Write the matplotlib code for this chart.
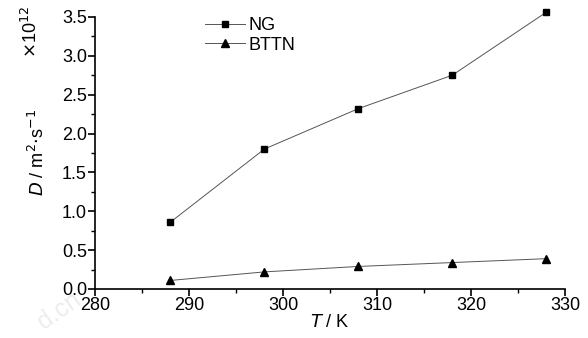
import matplotlib
matplotlib.use("Agg")
import matplotlib.pyplot as plt
from matplotlib.ticker import MultipleLocator

plt.rcParams["font.family"] = ["Liberation Sans Narrow", "Liberation Sans", "DejaVu Sans"]

temps = [288, 298, 308, 318, 328]
ng = [0.86, 1.80, 2.32, 2.75, 3.56]
bttn = [0.11, 0.22, 0.29, 0.34, 0.39]

fig = plt.figure(figsize=(5.88, 3.38), dpi=100)
ax = fig.add_axes([0.162, 0.145, 0.799, 0.805])
ax.set_zorder(2)
ax.patch.set_alpha(0)

ax.plot(temps, ng, color="#555555", lw=0.7, marker="s", ms=5,
        mfc="black", mec="black", label="NG", clip_on=False)
ax.plot(temps, bttn, color="#555555", lw=0.7, marker="^", ms=6,
        mfc="black", mec="black", label="BTTN", clip_on=False)

ax.set_xlim(280, 330)
ax.set_ylim(0, 3.5)
ax.xaxis.set_major_locator(MultipleLocator(10))
ax.xaxis.set_minor_locator(MultipleLocator(5))
ax.yaxis.set_major_locator(MultipleLocator(0.5))
ax.yaxis.set_minor_locator(MultipleLocator(0.25))
ax.yaxis.set_major_formatter(plt.FuncFormatter(lambda v, p: f"{v:.1f}"))

for s in ["top", "right"]:
    ax.spines[s].set_visible(False)
for s in ["left", "bottom"]:
    ax.spines[s].set_linewidth(1.2)
ax.tick_params(which="major", direction="out", length=5, width=1.2, labelsize=13, pad=1)
ax.tick_params(which="minor", direction="out", length=3, width=1.0)

ax.set_xlabel(r"$\it{T}$ / K", fontsize=13, labelpad=0)
ax.set_ylabel(r"$\it{D}$ / m$^2$$\cdot$s$^{-1}$", fontsize=13, labelpad=10)
fig.text(0.052, 0.905, r"$\times$10$^{12}$", rotation=90, fontsize=13,
         ha="center", va="center")

ax.legend(loc="upper left", bbox_to_anchor=(0.2, 1.06), frameon=False,
          fontsize=13, handlelength=2.2, handletextpad=0.2, labelspacing=0.15)

fig.text(0.1, 0.08, "d.cn", rotation=35, fontsize=18, color="#ededed",
         ha="center", va="center", zorder=0)

fig.savefig("out.png", dpi=100)
